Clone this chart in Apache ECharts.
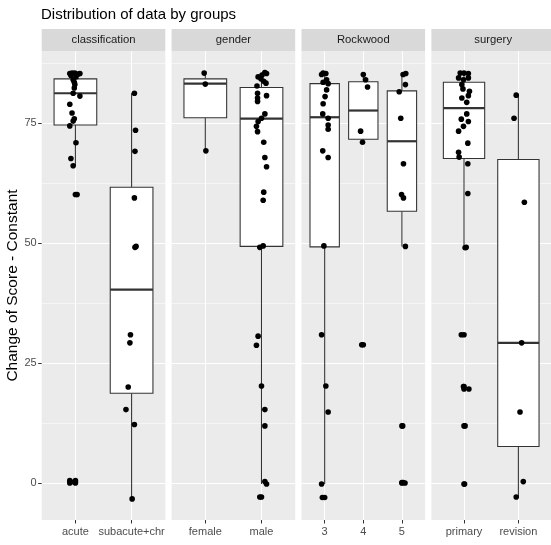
<!DOCTYPE html>
<html><head><meta charset="utf-8">
<script src="https://cdn.jsdelivr.net/npm/echarts@6/dist/echarts.min.js"></script>
<style>html,body{margin:0;padding:0;background:#fff}#c{width:551px;height:545px}</style>
</head><body><div id="c"></div>
<script>
const chartTitle = 'Distribution of data by groups';
const yTitle = 'Change of Score - Constant';
const panelNames = ['classification', 'gender', 'Rockwood', 'surgery'];
const classificationCats = ['acute', 'subacute+chr'];
const genderCats = ['female', 'male'];
const rockwoodCats = ['3', '4', '5'];
const surgeryCats = ['primary', 'revision'];
const yTicks = [0, 25, 50, 75];
const yMinorTicks = [12.5, 37.5, 62.5, 87.5];

// box stats: [lower whisker, Q1, median, Q3, upper whisker]
const acuteBox = [66.1, 74.6, 81.2, 84.2, 85.4];
const subacuteBox = [-3.3, 18.7, 40.3, 61.6, 81.2];
const femaleBox = [69.2, 76.1, 83.2, 84.2, 85.4];
const maleBox = [-0.2, 49.3, 75.9, 82.4, 85.5];
const rock3Box = [-0.2, 49.2, 76.2, 83.2, 85.4];
const rock4Box = [71.0, 71.6, 77.6, 83.6, 85.1];
const rock5Box = [49.3, 56.6, 71.2, 81.7, 85.3];
const primaryBox = [49.0, 67.6, 78.1, 83.5, 85.4];
const revisionBox = [-2.9, 7.6, 29.2, 67.4, 80.8];

// observed values and their horizontal jitter (category units)
const acuteValues = [85.3, 85.4, 85.4, 85.2, 85.3, 84.9, 84.6, 84.0, 83.5, 83.0, 82.3, 81.2, 80.6, 78.9, 77.1, 75.9, 75.4, 74.4, 70.9, 67.6, 66.1, 60.1, 0.5, 0.0, 0.2];
const acuteJitter = [-0.10, -0.06, -0.01, 0.05, 0.08, -0.08, 0.01, -0.04, -0.02, -0.01, -0.02, -0.04, 0.08, -0.10, -0.06, -0.02, -0.04, -0.10, 0.01, -0.08, -0.04, 0.03, -0.10, -0.10, -0.02];
const subacuteValues = [81.2, 73.5, 69.1, 59.4, 49.1, 49.3, 30.9, 29.2, 20.0, 15.3, 12.2, -3.3];
const subacuteJitter = [0.05, 0.07, 0.06, 0.05, 0.06, 0.08, -0.02, -0.03, -0.06, -0.10, 0.05, 0.01];
const femaleValues = [85.4, 83.1, 69.2];
const femaleJitter = [-0.02, 0.00, 0.01];
const maleValues = [85.5, 85.3, 85.0, 84.6, 84.2, 83.7, 83.3, 82.7, 81.2, 80.7, 80.2, 79.5, 76.9, 76.0, 75.3, 74.3, 73.2, 71.0, 67.8, 65.9, 60.6, 58.9, 49.1, 49.4, 30.6, 28.7, 20.2, 15.3, 11.9, 0.3, -0.2, -2.9];
const maleJitter = [0.06, 0.09, 0.01, -0.06, -0.01, 0.04, 0.08, -0.08, -0.07, 0.09, -0.07, -0.07, 0.06, 0.00, -0.06, -0.09, -0.07, 0.04, 0.06, 0.09, 0.04, 0.03, -0.03, 0.03, -0.06, -0.09, 0.00, 0.06, 0.06, 0.06, 0.09, -0.03];
const rock3Values = [85.4, 85.3, 85.1, 84.0, 83.5, 83.2, 81.9, 80.5, 79.0, 76.9, 76.0, 74.6, 73.7, 69.2, 67.8, 49.4, 30.9, 20.2, 14.8, -0.2, -3.0];
const rock3Jitter = [-0.04, 0.03, -0.08, 0.05, -0.04, 0.09, 0.05, 0.01, -0.04, -0.05, 0.09, 0.09, 0.09, -0.05, 0.09, -0.02, -0.08, 0.03, 0.09, -0.08, -0.06];
const rock4Values = [85.1, 84.0, 82.5, 73.3, 71.0, 28.8];
const rock4Jitter = [0.00, 0.06, 0.11, -0.07, -0.02, -0.04];
const rock5Values = [85.1, 85.3, 83.0, 81.5, 76.0, 66.5, 60.1, 59.4, 49.3, 11.9, 0.1, 0.0];
const rock5Jitter = [0.03, 0.10, 0.09, -0.07, -0.03, 0.04, -0.01, 0.04, 0.09, 0.02, 0.03, 0.08];
const primaryValues = [85.4, 85.4, 85.3, 84.4, 84.0, 84.4, 83.0, 82.1, 81.6, 80.7, 80.2, 79.3, 76.9, 75.8, 75.3, 74.3, 73.3, 70.8, 68.9, 67.9, 66.5, 60.3, 49.0, 49.1, 30.9, 20.1, 19.6, 11.9, -0.2];
const primaryJitter = [-0.07, 0.00, 0.08, -0.10, -0.01, 0.08, -0.04, -0.02, 0.10, 0.08, -0.04, 0.05, 0.05, -0.05, 0.08, -0.01, -0.10, 0.07, -0.10, -0.09, 0.07, 0.07, 0.02, 0.04, -0.05, -0.01, 0.09, 0.02, 0.01];
const revisionValues = [80.8, 76.0, 58.5, 29.2, 14.8, 0.3, -2.9];
const revisionJitter = [-0.04, -0.08, 0.11, 0.06, 0.03, 0.09, -0.04];

const panels = [
  { name: panelNames[0], cats: classificationCats, groups: [
    { box: acuteBox, values: acuteValues, jitter: acuteJitter },
    { box: subacuteBox, values: subacuteValues, jitter: subacuteJitter }] },
  { name: panelNames[1], cats: genderCats, groups: [
    { box: femaleBox, values: femaleValues, jitter: femaleJitter },
    { box: maleBox, values: maleValues, jitter: maleJitter }] },
  { name: panelNames[2], cats: rockwoodCats, groups: [
    { box: rock3Box, values: rock3Values, jitter: rock3Jitter },
    { box: rock4Box, values: rock4Values, jitter: rock4Jitter },
    { box: rock5Box, values: rock5Values, jitter: rock5Jitter }] },
  { name: panelNames[3], cats: surgeryCats, groups: [
    { box: primaryBox, values: primaryValues, jitter: primaryJitter },
    { box: revisionBox, values: revisionValues, jitter: revisionJitter }] }
];

// layout
const FONT = '"Liberation Sans", Arial, sans-serif';
const panelLeft0 = 41.7, panelWidth = 123.6, panelGap = 6.3;
const panelTop = 51, panelHeight = 469, stripTop = 29, stripHeight = 22;
const yMin = -7.7, yMax = 90.0;
const boxWidth = 0.76;
const lineCol = '#333333';

function renderBox(params, api) {
  const x = api.value(0);
  const lo = api.coord([x, api.value(1)]);
  const q1 = api.coord([x, api.value(2)]);
  const md = api.coord([x, api.value(3)]);
  const q3 = api.coord([x, api.value(4)]);
  const hi = api.coord([x, api.value(5)]);
  const hw = api.size([boxWidth, 0])[0] / 2;
  const cx = lo[0];
  const ls = { stroke: lineCol, lineWidth: 1.07, fill: null };
  return { type: 'group', children: [
    { type: 'line', shape: { x1: cx, y1: hi[1], x2: cx, y2: q3[1] }, style: ls },
    { type: 'line', shape: { x1: cx, y1: q1[1], x2: cx, y2: lo[1] }, style: ls },
    { type: 'rect', shape: { x: cx - hw, y: q3[1], width: 2 * hw, height: q1[1] - q3[1] },
      style: { fill: '#ffffff', stroke: lineCol, lineWidth: 1.07 } },
    { type: 'line', shape: { x1: cx - hw, y1: md[1], x2: cx + hw, y2: md[1] },
      style: { stroke: lineCol, lineWidth: 2.2 } }
  ] };
}

const grids = [], xAxes = [], yAxes = [], series = [], graphics = [];
panels.forEach((p, i) => {
  const left = panelLeft0 + i * (panelWidth + panelGap);
  const n = p.cats.length;
  const catIdx = p.cats.map((c, k) => k + 1);
  grids.push({ left: left, top: panelTop, width: panelWidth, height: panelHeight,
    show: true, backgroundColor: '#EBEBEB', borderWidth: 0, containLabel: false });
  xAxes.push({ gridIndex: i, type: 'value', min: 0.4, max: n + 0.6, position: 'bottom',
    axisLine: { show: false, onZero: false },
    axisTick: { show: true, customValues: catIdx, length: 3.5, lineStyle: { color: lineCol, width: 1 } },
    axisLabel: { customValues: catIdx, formatter: v => p.cats[Math.round(v) - 1], color: '#4D4D4D',
      fontSize: 11, fontFamily: FONT, margin: 6 },
    splitLine: { show: true, lineStyle: { color: '#ffffff', width: 1.07 } } });
  yAxes.push({ gridIndex: i, type: 'value', min: yMin, max: yMax, position: 'left',
    axisLine: { show: false, onZero: false },
    axisTick: { show: i === 0, customValues: yTicks, length: 3.5, lineStyle: { color: lineCol, width: 1 } },
    axisLabel: { show: i === 0, customValues: yTicks, color: '#4D4D4D', fontSize: 11, fontFamily: FONT, margin: 5 },
    splitLine: { show: true, lineStyle: { color: '#ffffff', width: 1.07 } },
    name: i === 0 ? yTitle : '', nameLocation: 'middle', nameGap: 15,
    nameTextStyle: { color: '#000000', fontSize: 15.5, fontFamily: FONT } });
  yAxes.push({ gridIndex: i, type: 'value', min: yMin, max: yMax, position: 'left',
    axisLine: { show: false, onZero: false },
    axisTick: { show: false, customValues: yMinorTicks },
    axisLabel: { show: false, customValues: yMinorTicks },
    splitLine: { show: true, lineStyle: { color: '#ffffff', width: 0.53 } } });

  const boxData = p.groups.map((g, k) => [k + 1].concat(g.box));
  const outliers = [], jittered = [];
  p.groups.forEach((g, k) => {
    g.values.forEach((v, j) => {
      if (v < g.box[0] || v > g.box[4]) outliers.push([k + 1, v]);
      jittered.push([k + 1 + g.jitter[j], v]);
    });
  });
  series.push({ type: 'custom', xAxisIndex: i, yAxisIndex: 2 * i, renderItem: renderBox,
    data: boxData, silent: true, z: 2, encode: { x: 0, y: [1, 2, 3, 4, 5] } });
  series.push({ type: 'scatter', xAxisIndex: i, yAxisIndex: 2 * i, data: outliers,
    symbolSize: 5.6, itemStyle: { color: '#000000', opacity: 1 }, silent: true, z: 3 });
  series.push({ type: 'scatter', xAxisIndex: i, yAxisIndex: 2 * i, data: jittered,
    symbolSize: 5.6, itemStyle: { color: '#000000', opacity: 1 }, silent: true, z: 4 });

  graphics.push({ type: 'rect', silent: true,
    shape: { x: left, y: stripTop, width: panelWidth, height: stripHeight },
    style: { fill: '#D9D9D9' } });
  graphics.push({ type: 'text', silent: true, x: left + panelWidth / 2, y: stripTop + stripHeight / 2,
    style: { text: p.name, fill: '#1A1A1A', font: '11.3px ' + FONT,
      textAlign: 'center', textVerticalAlign: 'middle', align: 'center', verticalAlign: 'middle' } });
});

const chart = echarts.init(document.getElementById('c'), null, { renderer: 'canvas' });
chart.setOption({
  animation: false,
  backgroundColor: '#ffffff',
  title: { text: chartTitle, left: 41, top: 7, padding: 0,
    textStyle: { color: '#000000', fontSize: 15, fontWeight: 'normal', fontFamily: FONT } },
  grid: grids, xAxis: xAxes, yAxis: yAxes, series: series, graphic: graphics
});
</script></body></html>
